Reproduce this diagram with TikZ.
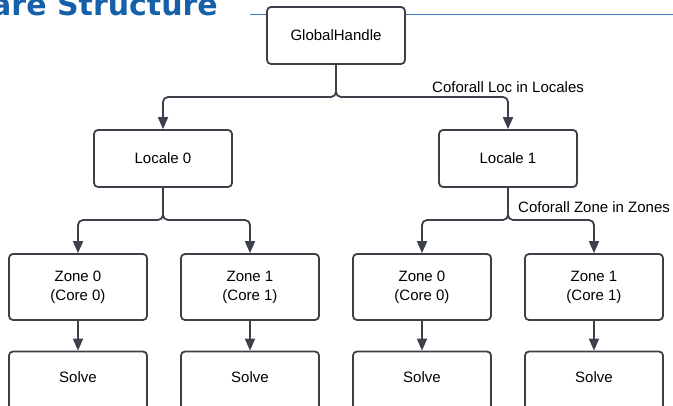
\documentclass[tikz,border=0pt]{standalone}
\usepackage{fontspec}
\setmainfont{Liberation Sans}
\newfontfamily\titlefont{DejaVu Sans}
\usetikzlibrary{arrows.meta,calc}
\definecolor{edgegray}{HTML}{3B4049}
\definecolor{titleblue}{HTML}{1660AA}
\definecolor{ruleblue}{HTML}{3E7DBA}
\begin{document}
\begin{tikzpicture}[x=1pt,y=-1pt,
  txt/.style={font=\fontsize{15}{19}\selectfont},
  box/.style={draw=edgegray,line width=1.8pt,rounded corners=4pt,fill=white,
    minimum width=138pt,align=center,inner sep=0pt,txt},
  tall/.style={box,minimum height=57pt},
  zonebox/.style={box,minimum height=66pt},
  conn/.style={draw=edgegray,line width=1.8pt,rounded corners=5pt,
    -{Triangle[width=10pt,length=12pt]}},
  lbl/.style={anchor=west,inner sep=0pt,txt}]
\useasboundingbox (0,0) rectangle (673,406);
\clip (0,0) rectangle (673,406);

% frame title and rule
\node[anchor=base east,inner sep=0pt,text=titleblue,
  font=\fontsize{30}{36}\titlefont\bfseries] (title) at (218,16) {are Structure};
\draw[ruleblue,line width=1pt] (250,15) -- (673,15);

% nodes
\node[tall] (g) at (336,35.5) {GlobalHandle};
\node[tall] (l0) at (163,158.5) {Locale 0};
\node[tall] (l1) at (508,158.5) {Locale 1};
\node[zonebox] (z00) at (78,287) {Zone 0\\(Core 0)};
\node[zonebox] (z01) at (250,287) {Zone 1\\(Core 1)};
\node[zonebox] (z10) at (422,287) {Zone 0\\(Core 0)};
\node[zonebox] (z11) at (594,287) {Zone 1\\(Core 1)};
\foreach \n/\x in {s00/78,s01/250,s10/422,s11/594}{
  \node[zonebox] (\n) at (\x,384.5) {};
  \node[txt] (\n t) at ($(\n.north)+(0,27)$) {Solve};
}

% split levels
\coordinate (splitg) at (0,97);
\coordinate (splitl) at (0,220);

% connectors
\draw[conn] (g.south) -- (g.south |- splitg) -| (l0.north);
\draw[conn] (g.south) -- (g.south |- splitg) -| (l1.north);
\draw[conn] (l0.south) -- (l0.south |- splitl) -| (z00.north);
\draw[conn] (l0.south) -- (l0.south |- splitl) -| (z01.north);
\draw[conn] (l1.south) -- (l1.south |- splitl) -| (z10.north);
\draw[conn] (l1.south) -- (l1.south |- splitl) -| (z11.north);
\draw[conn] (z00) -- (s00);
\draw[conn] (z01) -- (s01);
\draw[conn] (z10) -- (s10);
\draw[conn] (z11) -- (s11);

% labels
\node[lbl] (lab1) at (432,87) {Coforall Loc in Locales};
\node[lbl] (lab2) at (518,207) {Coforall Zone in Zones};
\end{tikzpicture}
\end{document}
